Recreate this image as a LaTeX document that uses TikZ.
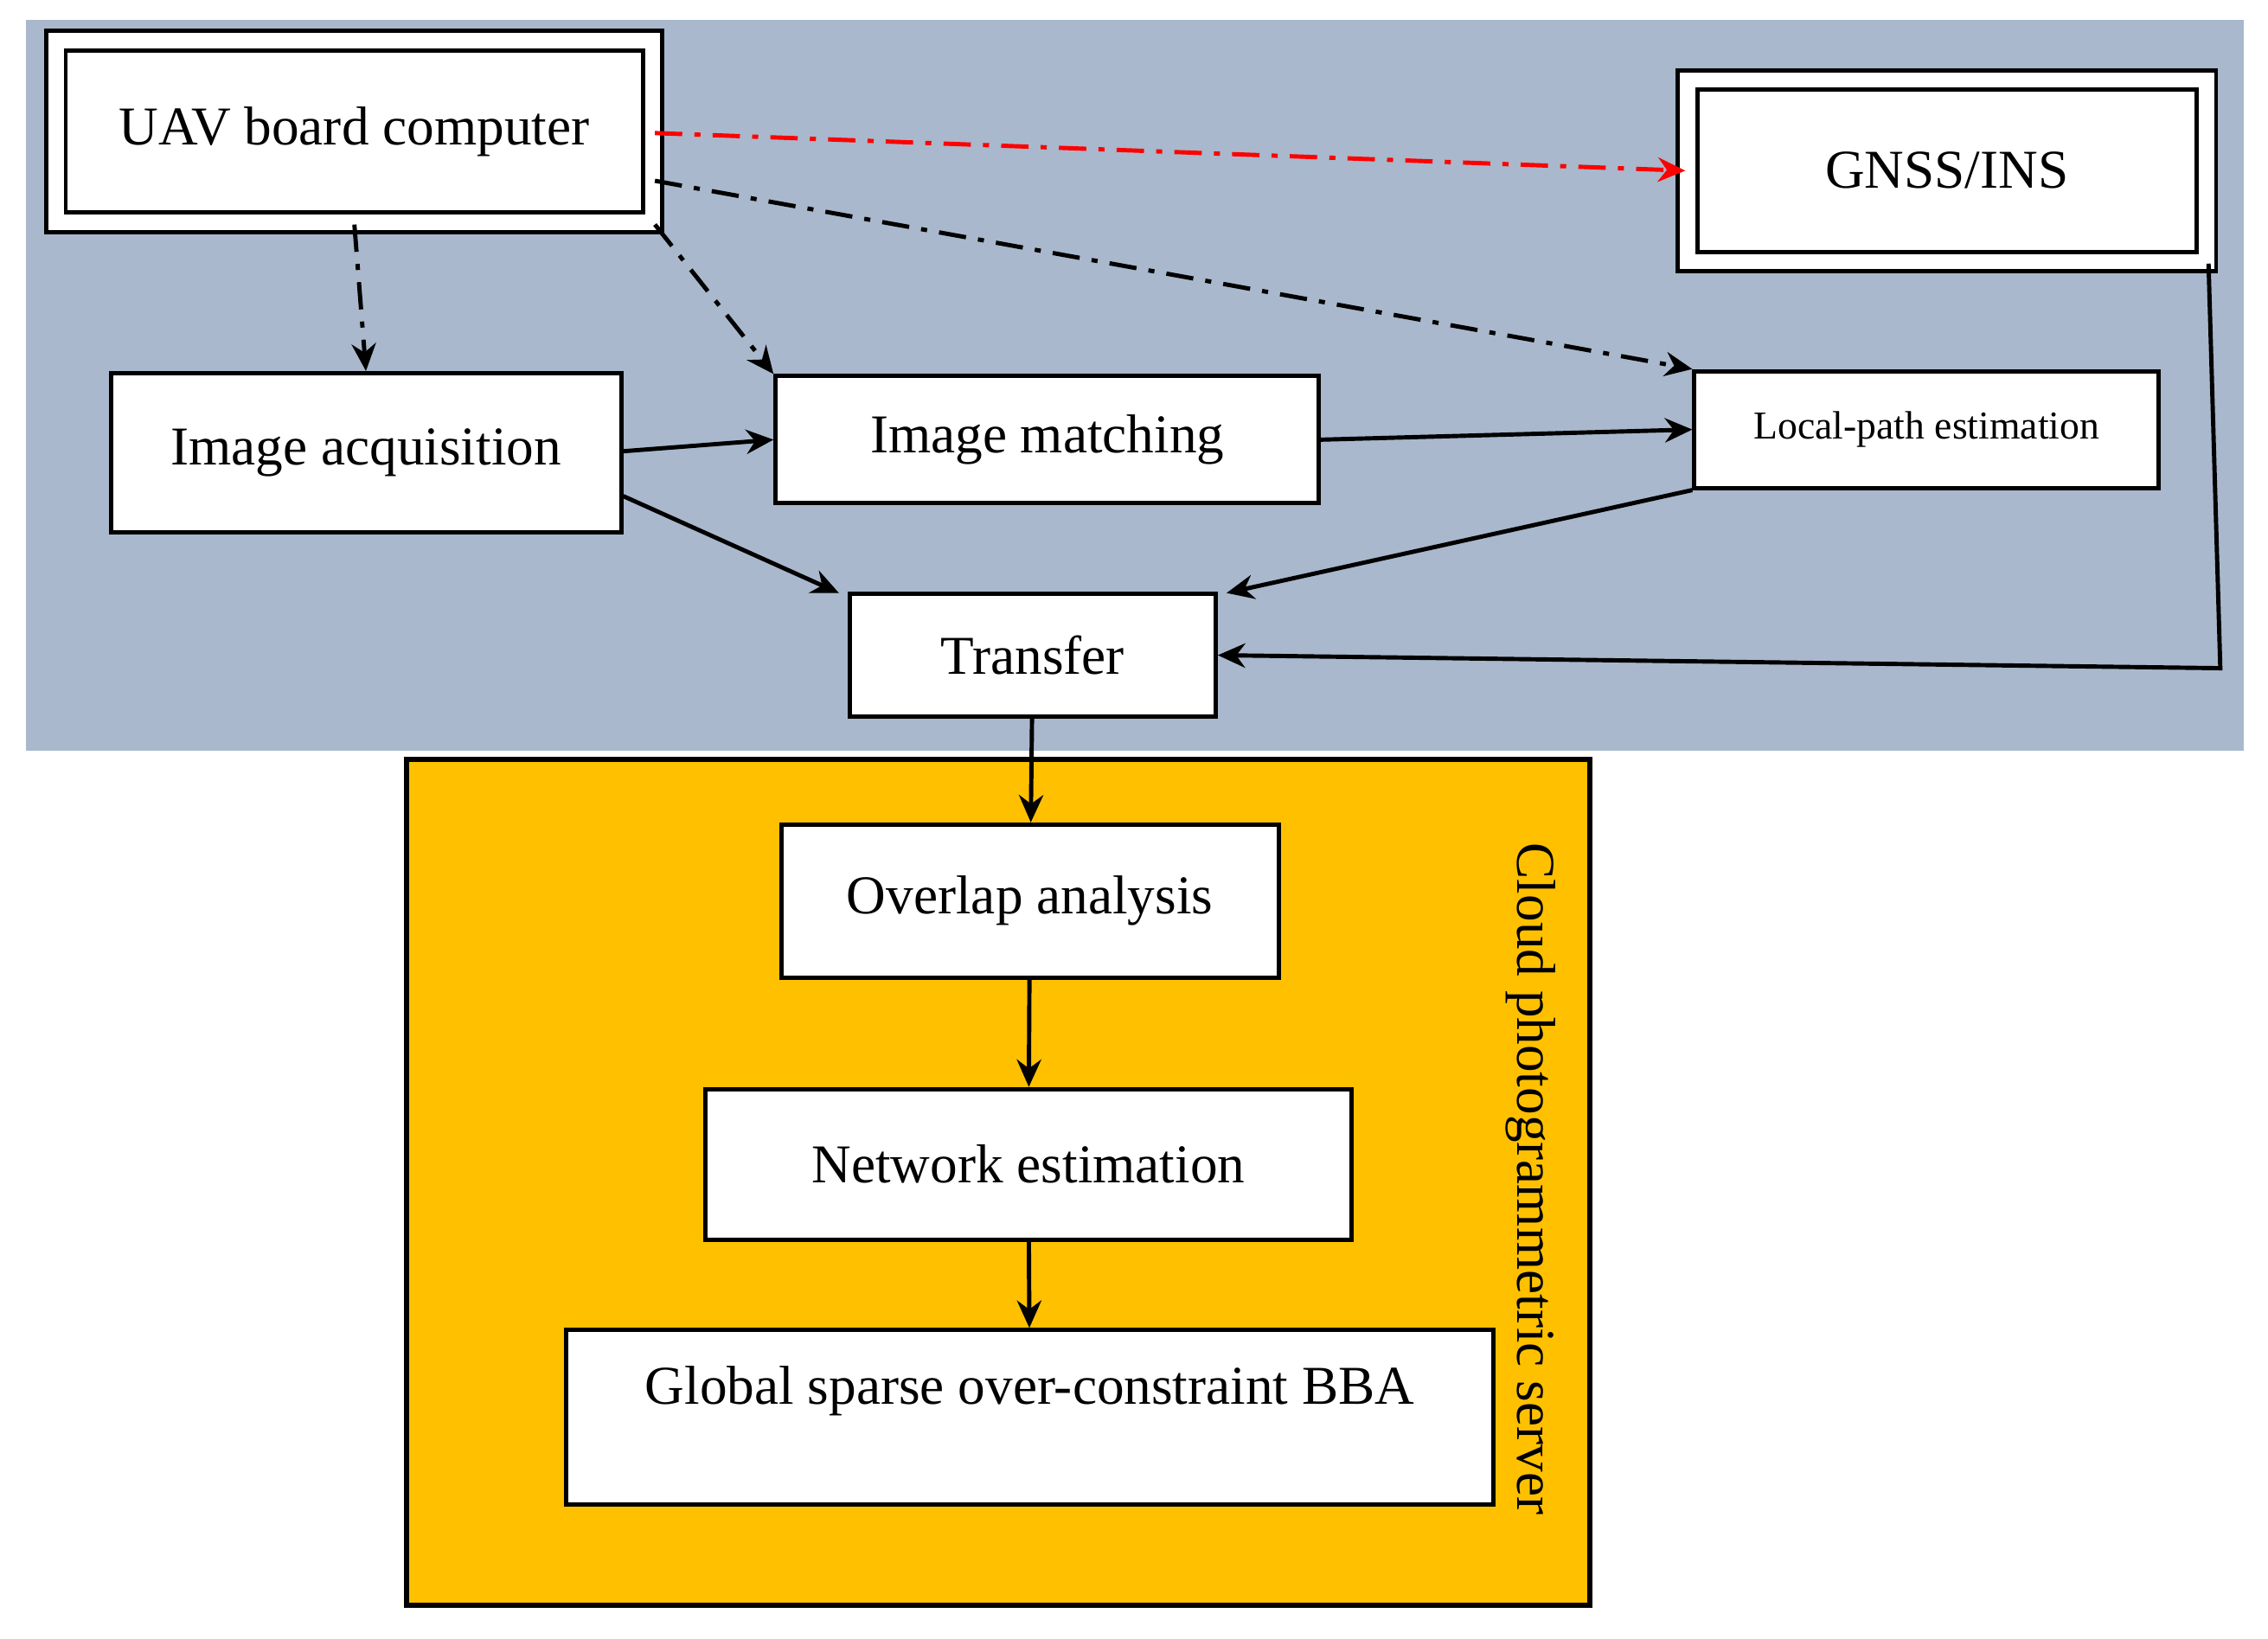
\documentclass[tikz,border=0pt]{standalone}
\usepackage{fontspec}
\setmainfont{Liberation Serif}
\usetikzlibrary{arrows.meta,positioning}
\begin{document}
\begin{tikzpicture}[x=0.01672cm,y=-0.01672cm]
        \definecolor{uavblue}{RGB}{169,184,204}
        \definecolor{cloudorange}{RGB}{255,192,0}
        \tikzset{
            box/.style={draw, fill=white, line width=1.4pt, inner sep=0pt, font=\fontsize{18}{20}\selectfont},
            dbox/.style={box, double=white, double distance=5pt, line width=1.4pt},
            flow/.style={-{Stealth[length=9pt,width=8pt]}, line width=1.4pt},
            ctrl/.style={flow, dash pattern=on 9pt off 4pt on 2pt off 4pt}
        }
        \useasboundingbox (0,0) rectangle (1568,1133);

        % Backgrounds
        \fill[uavblue] (18,14) rectangle (1551,519);
        \draw[fill=cloudorange, line width=1.6pt] (281,525) rectangle (1099,1110);
        \node[rotate=-90, font=\fontsize{18}{20}\selectfont] (cloud) at (1058,815) {Cloud photogrammetric server};

        % On-board nodes
        \node[dbox, minimum width=6.9cm, minimum height=2.1cm] (uav) at (245,91) {UAV board computer};
        \node[dbox, minimum width=6.0cm, minimum height=2.1cm] (gnss) at (1346,118) {GNSS/INS};
        \node[box, minimum width=5.9cm, minimum height=1.84cm] (acq) at (253,313) {Image acquisition};
        \node[box, minimum width=6.28cm, minimum height=1.47cm] (match) at (724,304) {Image matching};
        \node[box, minimum width=5.37cm, minimum height=1.35cm, font=\fontsize{13}{15}\selectfont] (local) at (1332,297) {Local-path estimation};
        \node[box, minimum width=4.23cm, minimum height=1.42cm] (transfer) at (714,453) {Transfer};

        % Cloud nodes
        \node[box, minimum width=5.75cm, minimum height=1.77cm] (overlap) at (712,623) {Overlap analysis};
        \node[box, minimum width=7.47cm, minimum height=1.74cm] (network) at (711,805) {Network estimation};
        \node[box, minimum width=10.72cm, minimum height=2.02cm, text depth=0.75cm] (global) at (712,980) {Global sparse over-constraint BBA};

        % Control links
        \draw[ctrl] (uav.south) -- (acq.north);
        \draw[ctrl] (uav.south east) -- (match.north west);
        \draw[ctrl] (uav.east |- 0,125) -- (local.north west);
        \draw[ctrl, red] (uav.east |- 0,92) -- (gnss.west);

        % Data flow
        \draw[flow] (acq.east |- 0,312) -- (match.west);
        \draw[flow] (acq.east |- 0,343) -- (580,410);
        \draw[flow] (match.east) -- (local.west);
        \draw[flow] (local.south west) -- (848,410);
        \coordinate (corner) at (1535,462);
        \draw[flow] (gnss.south east) -- (corner) -- (transfer.east);
        \draw[flow] (transfer) -- (overlap);
        \draw[flow] (overlap) -- (network);
        \draw[flow] (network) -- (global);
    \end{tikzpicture}
\end{document}
